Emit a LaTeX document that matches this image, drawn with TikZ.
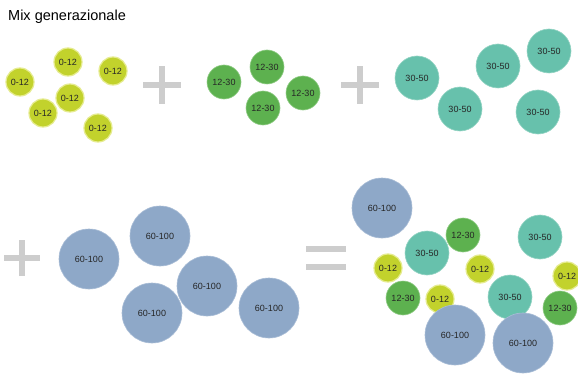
\documentclass[tikz,border=0pt]{standalone}
\usepackage{fontspec}
\setmainfont{Liberation Sans}
\begin{document}
\begin{tikzpicture}[x=1pt,y=-1pt,
  bub/.style={circle,inner sep=0pt,font=\fontsize{9}{9}\selectfont,text=black!85},
  aa/.style={bub,minimum size=28pt,fill=cA,draw=cAg,line width=1.2pt},
  bb/.style={bub,minimum size=34pt,fill=cB,draw=cBg,line width=0.6pt},
  cc/.style={bub,minimum size=44pt,fill=cC,draw=cCg,line width=0.6pt},
  dd/.style={bub,minimum size=60pt,fill=cD,draw=cDg,line width=0.6pt},
  opbar/.style={draw=opg,line width=6pt}]
\definecolor{cA}{HTML}{C2D22C}
\definecolor{cAg}{HTML}{E6EC90}
\definecolor{cB}{HTML}{5DB14F}
\definecolor{cBg}{HTML}{8FCB84}
\definecolor{cC}{HTML}{67C1AC}
\definecolor{cCg}{HTML}{95D4C4}
\definecolor{cD}{HTML}{8EA8C8}
\definecolor{cDg}{HTML}{A9BDD6}
\definecolor{opg}{HTML}{CDCDCD}
\useasboundingbox[fill=white] (0,0) rectangle (578,377);
\node[anchor=west,font=\fontsize{14.5}{14.5}\selectfont,inner sep=0pt] (title) at (8,17) {Mix generazionale};
% row 1: 0-12
\node[aa] (a1) at (20,82) {0-12};
\node[aa] (a2) at (68,62) {0-12};
\node[aa] (a3) at (113,71) {0-12};
\node[aa] (a4) at (70,98) {0-12};
\node[aa] (a5) at (43,113) {0-12};
\node[aa] (a6) at (98,128) {0-12};
% plus 1
\coordinate (p1) at (162,85);
\draw[opbar] ([xshift=-19pt]p1) -- ([xshift=19pt]p1);
\draw[opbar] ([yshift=-19pt]p1) -- ([yshift=19pt]p1);
% 12-30
\node[bb] (b1) at (224,82) {12-30};
\node[bb] (b2) at (267,67) {12-30};
\node[bb] (b3) at (263,108) {12-30};
\node[bb] (b4) at (303,93) {12-30};
% plus 2
\coordinate (p2) at (360,85);
\draw[opbar] ([xshift=-19pt]p2) -- ([xshift=19pt]p2);
\draw[opbar] ([yshift=-19pt]p2) -- ([yshift=19pt]p2);
% 30-50
\node[cc] (c1) at (417,78) {30-50};
\node[cc] (c2) at (460,109) {30-50};
\node[cc] (c3) at (498,66) {30-50};
\node[cc] (c4) at (549,51) {30-50};
\node[cc] (c5) at (538,112) {30-50};
% row 2: plus 3
\coordinate (p3) at (22,258);
\draw[opbar] ([xshift=-18pt]p3) -- ([xshift=18pt]p3);
\draw[opbar] ([yshift=-18pt]p3) -- ([yshift=18pt]p3);
% 60-100
\node[dd] (d1) at (89,259) {60-100};
\node[dd] (d2) at (160,236) {60-100};
\node[dd] (d3) at (207,286) {60-100};
\node[dd] (d4) at (152,313) {60-100};
\node[dd] (d5) at (269,308) {60-100};
% equals
\coordinate (eq) at (326,258);
\draw[opbar] ([xshift=-20pt,yshift=-9pt]eq) -- ([xshift=20pt,yshift=-9pt]eq);
\draw[opbar] ([xshift=-20pt,yshift=9pt]eq) -- ([xshift=20pt,yshift=9pt]eq);
% result
\node[dd] (r1) at (382,208) {60-100};
\node[bb] (r2) at (463,235) {12-30};
\node[cc] (r3) at (427,253) {30-50};
\node[cc] (r4) at (540,237) {30-50};
\node[aa] (r5) at (388,268) {0-12};
\node[aa] (r6) at (480,269) {0-12};
\node[aa] (r7) at (567,276) {0-12};
\node[bb] (r8) at (403,298) {12-30};
\node[aa] (r9) at (440,299) {0-12};
\node[cc] (r10) at (510,297) {30-50};
\node[bb] (r11) at (560,308) {12-30};
\node[dd] (r12) at (455,335) {60-100};
\node[dd] (r13) at (523,343) {60-100};
\end{tikzpicture}
\end{document}
